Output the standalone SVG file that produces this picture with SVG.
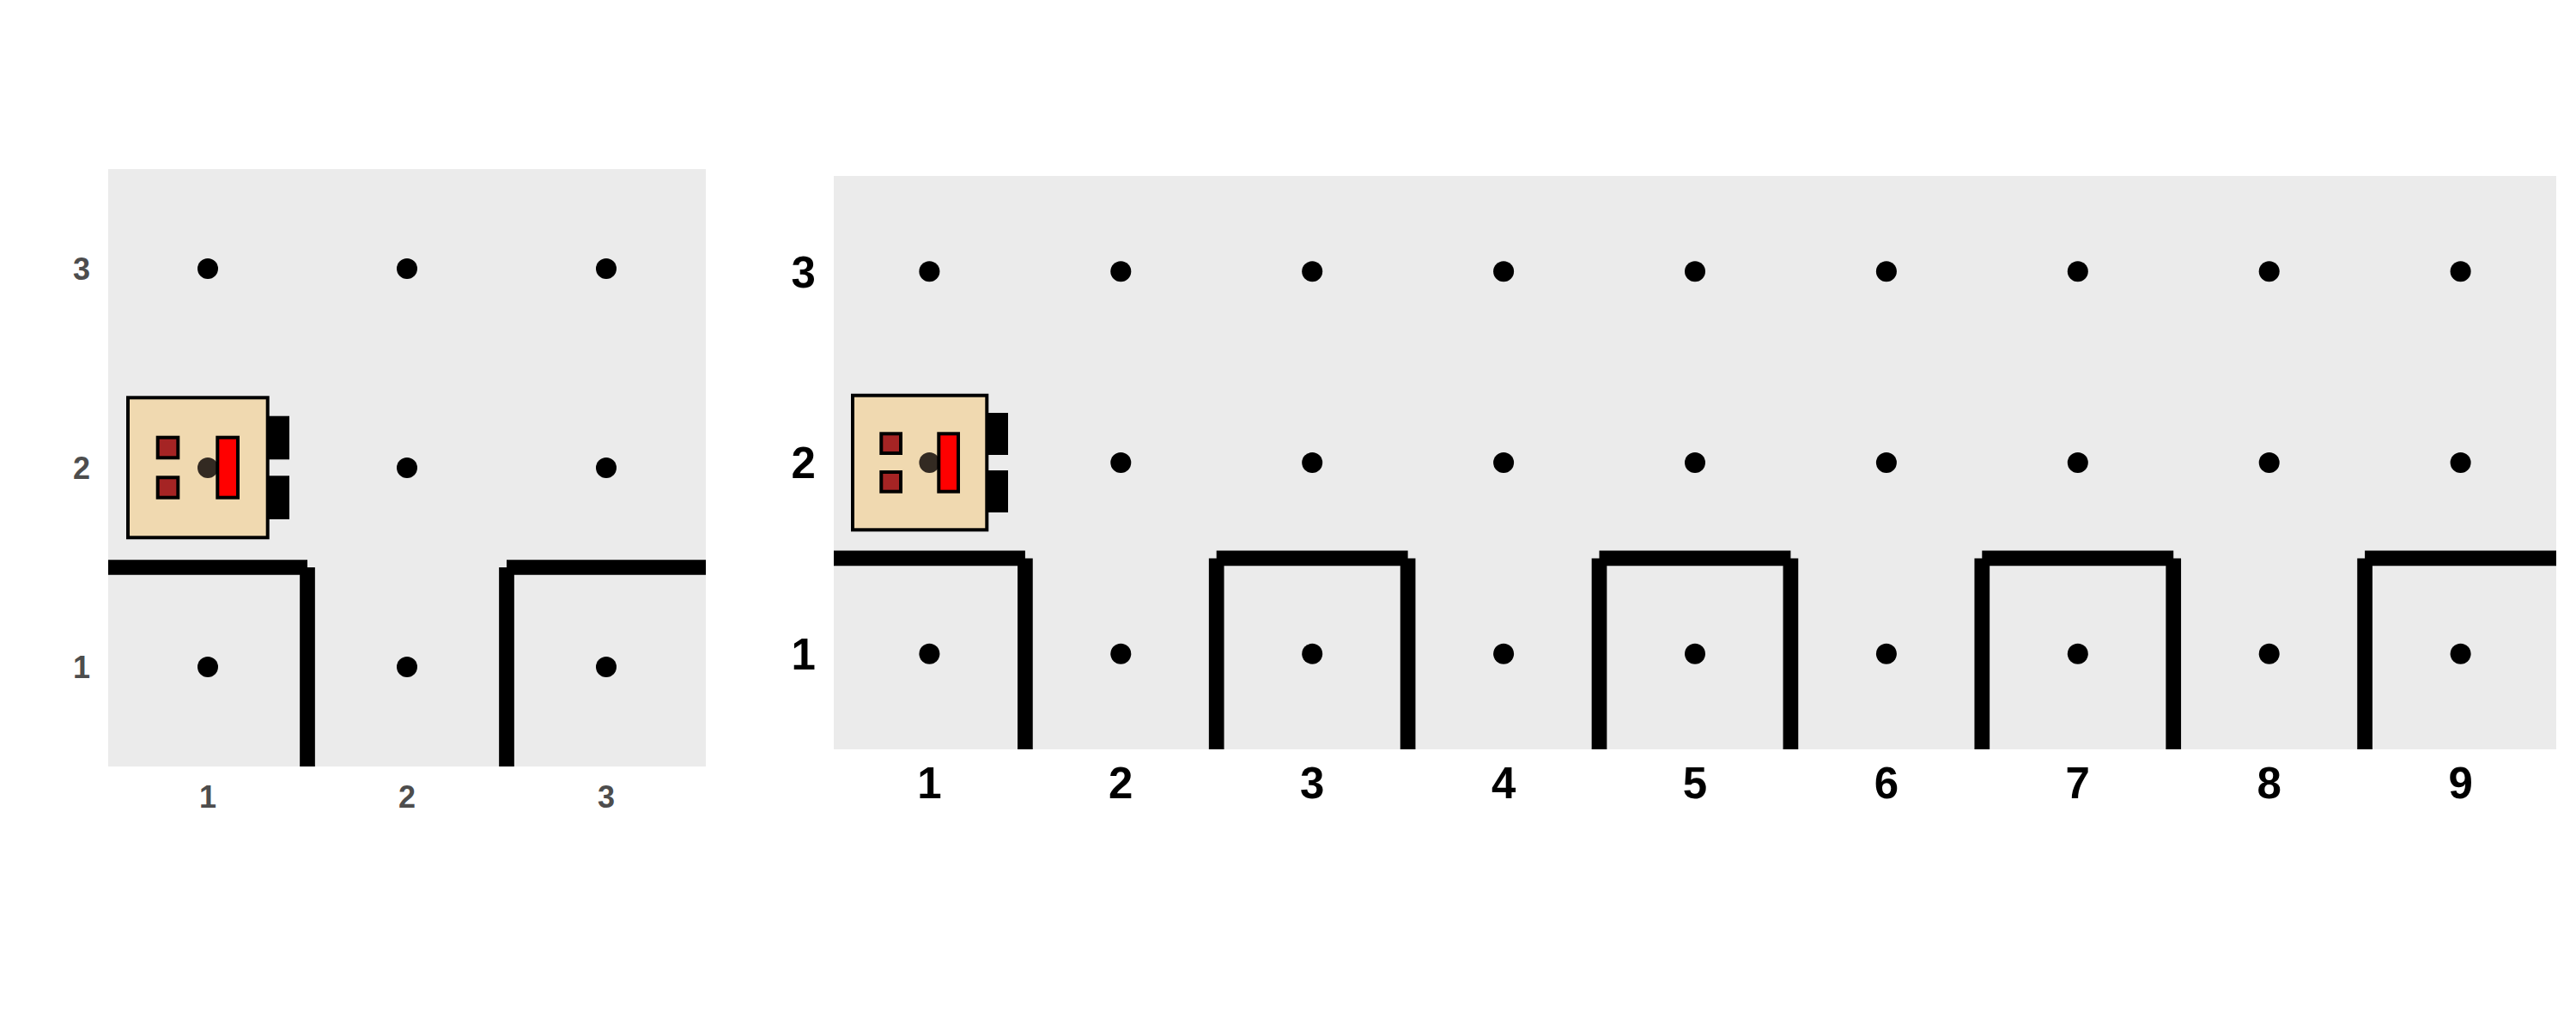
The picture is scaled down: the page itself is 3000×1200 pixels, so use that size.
<svg xmlns="http://www.w3.org/2000/svg" width="3000" height="1200" viewBox="0 0 3000 1200">
<style>
.panel{fill:#ebebeb}
.dot{fill:#000}
.wall{stroke:#000;stroke-width:17.7;fill:none;stroke-linecap:butt}
.body{fill:#f0d9b0;stroke:#000;stroke-width:4}
.wheel{fill:#000}
.sq{fill:#a52424;stroke:#000;stroke-width:4}
.bar{fill:#f00;stroke:#000;stroke-width:4}
.hub{fill:#332a22}
.t{font-family:"Liberation Sans",Arial,sans-serif;font-weight:700;text-anchor:middle}
.tl{font-size:36px;fill:#4d4d4d}
.tr{font-size:51px;fill:#000}
</style>
<rect width="3000" height="1200" fill="#fff"/>
<g id="left-panel">
<rect class="panel" x="126" y="197" width="696" height="696"/>
<g id="left-points">
<circle class="dot" cx="242" cy="313" r="12"/><circle class="dot" cx="474" cy="313" r="12"/><circle class="dot" cx="706" cy="313" r="12"/>
<circle class="dot" cx="474" cy="545" r="12"/><circle class="dot" cx="706" cy="545" r="12"/>
<circle class="dot" cx="242" cy="777" r="12"/><circle class="dot" cx="474" cy="777" r="12"/><circle class="dot" cx="706" cy="777" r="12"/>
</g>
<g id="left-walls">
<path class="wall" d="M126 661H358M358 661V893M590 893V661M590 661H822"/>
</g>
<g id="left-robot">
<rect class="wheel" x="310" y="484.7" width="27" height="50.6"/>
<rect class="wheel" x="310" y="554.3" width="27" height="50.7"/>
<rect class="body" x="149" y="463.3" width="162.7" height="163"/>
<circle class="hub" cx="242" cy="545" r="12"/>
<rect class="sq" x="183.7" y="509.7" width="23.6" height="23.6"/>
<rect class="sq" x="183.7" y="556.3" width="23.6" height="23.4"/>
<rect class="bar" x="253.3" y="509.7" width="23.7" height="70"/>
</g>
<g id="left-labels">
<text class="t tl" x="95" y="325.5">3</text><text class="t tl" x="95" y="558">2</text><text class="t tl" x="95" y="790">1</text>
<text class="t tl" x="242" y="941">1</text><text class="t tl" x="474" y="941">2</text><text class="t tl" x="706" y="941">3</text>
</g>
</g>
<g id="right-panel">
<rect class="panel" x="971" y="205" width="2006" height="668"/>
<g id="right-points">
<circle class="dot" cx="1082.4" cy="316.3" r="12"/><circle class="dot" cx="1305.3" cy="316.3" r="12"/><circle class="dot" cx="1528.2" cy="316.3" r="12"/><circle class="dot" cx="1751.1" cy="316.3" r="12"/><circle class="dot" cx="1974" cy="316.3" r="12"/><circle class="dot" cx="2196.9" cy="316.3" r="12"/><circle class="dot" cx="2419.8" cy="316.3" r="12"/><circle class="dot" cx="2642.7" cy="316.3" r="12"/><circle class="dot" cx="2865.6" cy="316.3" r="12"/>
<circle class="dot" cx="1305.3" cy="539" r="12"/><circle class="dot" cx="1528.2" cy="539" r="12"/><circle class="dot" cx="1751.1" cy="539" r="12"/><circle class="dot" cx="1974" cy="539" r="12"/><circle class="dot" cx="2196.9" cy="539" r="12"/><circle class="dot" cx="2419.8" cy="539" r="12"/><circle class="dot" cx="2642.7" cy="539" r="12"/><circle class="dot" cx="2865.6" cy="539" r="12"/>
<circle class="dot" cx="1082.4" cy="761.7" r="12"/><circle class="dot" cx="1305.3" cy="761.7" r="12"/><circle class="dot" cx="1528.2" cy="761.7" r="12"/><circle class="dot" cx="1751.1" cy="761.7" r="12"/><circle class="dot" cx="1974" cy="761.7" r="12"/><circle class="dot" cx="2196.9" cy="761.7" r="12"/><circle class="dot" cx="2419.8" cy="761.7" r="12"/><circle class="dot" cx="2642.7" cy="761.7" r="12"/><circle class="dot" cx="2865.6" cy="761.7" r="12"/>
</g>
<g id="right-walls">
<path class="wall" d="M971 650.4H1193.9M1416.7 650.4H1639.6M1862.5 650.4H2085.4M2308.3 650.4H2531.2M2754.1 650.4H2977"/>
<path class="wall" d="M1193.9 650.4V873M1416.7 650.4V873M1639.6 650.4V873M1862.5 650.4V873M2085.4 650.4V873M2308.3 650.4V873M2531.2 650.4V873M2754.1 650.4V873"/>
</g>
<g id="right-robot">
<rect class="wheel" x="1147" y="481" width="27" height="49"/>
<rect class="wheel" x="1147" y="548" width="27" height="49"/>
<rect class="body" x="993" y="460.7" width="156.3" height="156.6"/>
<circle class="hub" cx="1082.4" cy="539" r="12"/>
<rect class="sq" x="1026.3" y="505.3" width="22.7" height="22.7"/>
<rect class="sq" x="1026.3" y="550" width="22.7" height="22.7"/>
<rect class="bar" x="1093.3" y="505.3" width="22.7" height="67.4"/>
</g>
<g id="right-labels">
<text class="t tr" x="935.7" y="334.5">3</text><text class="t tr" x="935.7" y="557">2</text><text class="t tr" x="935.7" y="780">1</text>
<text class="t tr" x="1082.4" y="930">1</text><text class="t tr" x="1305.3" y="930">2</text><text class="t tr" x="1528.2" y="930">3</text><text class="t tr" x="1751.1" y="930">4</text><text class="t tr" x="1974" y="930">5</text><text class="t tr" x="2196.9" y="930">6</text><text class="t tr" x="2419.8" y="930">7</text><text class="t tr" x="2642.7" y="930">8</text><text class="t tr" x="2865.6" y="930">9</text>
</g>
</g>
</svg>
